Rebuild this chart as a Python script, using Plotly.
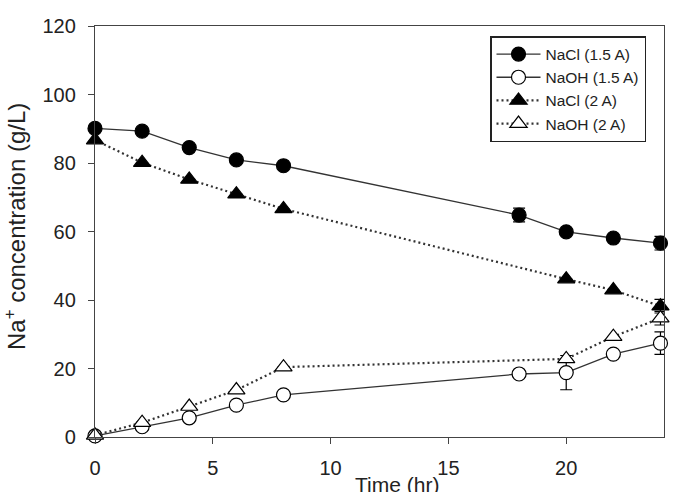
import plotly.graph_objects as go

time_a = [0, 2, 4, 6, 8, 18, 20, 22, 24]
nacl_15 = [90.1, 89.3, 84.5, 80.9, 79.2, 64.8, 59.9, 58.1, 56.6]
nacl_15_err = [0, 0, 0, 0, 0, 2.0, 0, 0, 2.0]
naoh_15 = [0.3, 3.0, 5.6, 9.3, 12.3, 18.4, 18.8, 24.2, 27.4]
naoh_15_err = [0, 0, 0, 0, 0, 0, 5.0, 0, 3.3]

time_b = [0, 2, 4, 6, 8, 20, 22, 24]
nacl_2 = [86.7, 80.1, 75.2, 70.9, 66.6, 46.1, 42.9, 38.2]
nacl_2_err = [0, 0, 0, 0, 0, 0, 0, 2.0]
naoh_2 = [0.5, 4.2, 8.9, 13.7, 20.4, 22.8, 29.3, 34.7]
naoh_2_err = [0, 0, 0, 0, 0, 0, 0, 2.0]

line_col = "#333333"
fig = go.Figure()


def add(x, y, err, name, symbol, fill, dash, width, size):
    fig.add_trace(go.Scatter(
        x=x, y=y, name=name, mode="lines+markers",
        line=dict(color=line_col, width=width, dash=dash),
        marker=dict(symbol=symbol, size=size, color=fill,
                    line=dict(color="black", width=1.2)),
        error_y=dict(type="data", array=err, visible=True, color="black",
                     thickness=1.2, width=6),
        cliponaxis=False,
    ))


add(time_a, nacl_15, nacl_15_err, "NaCl (1.5 A)", "circle", "black", "solid", 1.3, 14)
add(time_a, naoh_15, naoh_15_err, "NaOH (1.5 A)", "circle", "white", "solid", 1.3, 14)
add(time_b, nacl_2, nacl_2_err, "NaCl (2 A)", "triangle-up", "black", "2px,3px", 2.2, 15)
add(time_b, naoh_2, naoh_2_err, "NaOH (2 A)", "triangle-up", "white", "2px,3px", 2.2, 15)

font_fam = "Liberation Sans, Arial, sans-serif"
fig.update_layout(
    width=676, height=492,
    margin=dict(l=95, r=12, t=26, b=55),
    paper_bgcolor="white", plot_bgcolor="white",
    font=dict(family=font_fam, color="#222222"),
    showlegend=True,
    legend=dict(x=(490 - 95) / 569, y=1 - (36 - 26) / 411, xanchor="left", yanchor="top",
                bordercolor="#222222", borderwidth=1.5, bgcolor="white",
                font=dict(size=15.5), itemwidth=44, tracegroupgap=0),
    annotations=[
        dict(text="Time (hr)", xref="paper", yref="paper",
             x=(397 - 95) / 569, y=-(471 - 437) / 411, xanchor="center", yanchor="top",
             showarrow=False, font=dict(size=21, family=font_fam, color="#222222")),
        dict(text="Na<sup>+</sup> concentration (g/L)", xref="paper", yref="paper",
             x=-(95 - 15) / 569, y=(437 - 227) / 411, xanchor="center", yanchor="middle",
             textangle=-90, showarrow=False,
             font=dict(size=24, family=font_fam, color="#222222")),
    ],
)
fig.update_xaxes(
    range=[0, 24.15], tickvals=[0, 5, 10, 15, 20], ticks="outside", ticklen=6,
    tickcolor="#444", showline=True, linecolor="#444", linewidth=1.3, mirror=True,
    showgrid=False, zeroline=False, tickfont=dict(size=20), automargin=False,
    ticklabelstandoff=7,
)
fig.update_yaxes(
    range=[0, 120], tickvals=[0, 20, 40, 60, 80, 100, 120], ticks="outside", ticklen=6,
    tickcolor="#444", showline=True, linecolor="#444", linewidth=1.3, mirror=True,
    showgrid=False, zeroline=False, tickfont=dict(size=20), automargin=False,
    ticklabelstandoff=8,
)

fig.write_html("out.html")
